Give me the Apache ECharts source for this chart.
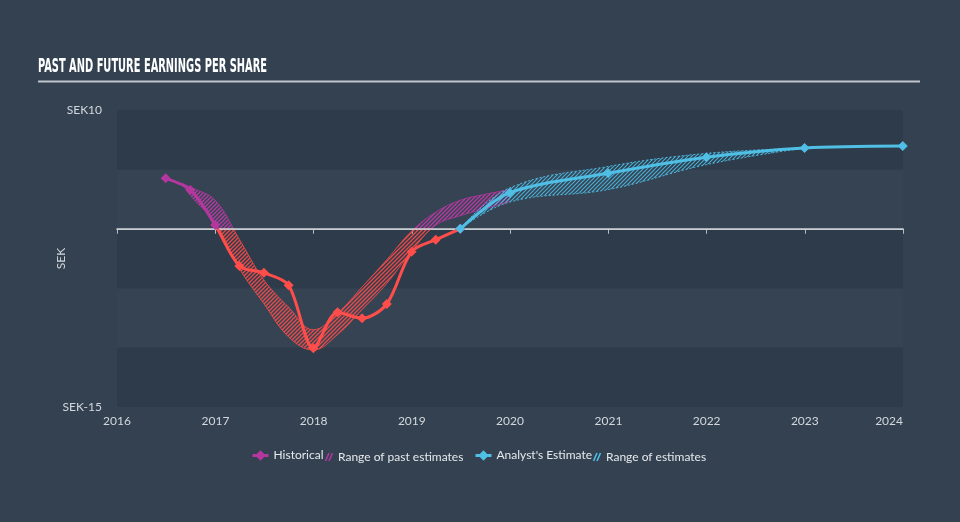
<!DOCTYPE html>
<html>
<head>
<meta charset="utf-8">
<script src="https://cdn.jsdelivr.net/npm/echarts@6/dist/echarts.min.js"></script>
<style>
html,body{margin:0;padding:0;background:#334151;}
#chart{width:960px;height:522px;}
</style>
</head>
<body>
<div id="chart"></div>
<script>
// ---- data ----
const TITLE = 'PAST AND FUTURE EARNINGS PER SHARE';
const xStart = '2016-01-01', xEnd = '2024-01-01';
const yLabelValues = [-15, 10];

const histDates = ['2016-06-30', '2016-09-30', '2016-12-31', '2017-03-31', '2017-06-30', '2017-09-30', '2017-12-31',
                   '2018-03-31', '2018-06-30', '2018-09-30', '2018-12-31', '2019-03-31', '2019-06-30'];
const histEPS   = [4.25, 3.27, 0.32, -3.13, -3.71, -4.75, -10.05, -7.03, -7.53, -6.33, -1.93, -0.92, 0.0];

const estDates = ['2019-06-30', '2019-12-31', '2020-12-31', '2021-12-31', '2022-12-31', '2023-12-31'];
const estEPS   = [0.0, 3.04, 4.67, 6.02, 6.8, 6.97];

const pastRangeDates = ['2016-08-29', '2016-09-30', '2016-12-31', '2017-03-31', '2017-06-30', '2017-09-30', '2017-12-31',
                        '2018-03-31', '2018-06-30', '2018-09-30', '2018-12-31', '2019-03-31', '2019-06-30', '2019-09-30', '2019-12-31'];
const pastRangeHigh = [3.85, 3.5, 2.4, -0.9, -4.3, -6.6, -8.5, -7.1, -4.9, -2.6, -0.2, 1.4, 2.4, 2.9, 3.3];
const pastRangeLow  = [3.85, 2.8, 0.5, -3.35, -6.3, -9.1, -10.2, -8.9, -6.8, -4.6, -1.9, 0.3, 1.1, 1.7, 2.3];

const estRangeDates = ['2019-06-30', '2019-12-31', '2020-12-31', '2021-12-31', '2022-12-31'];
const estRangeHigh  = [0.0, 3.45, 5.25, 6.35, 6.8];
const estRangeLow   = [0.0, 2.25, 3.3, 5.4, 6.8];

// ---- styles ----
const BG = '#334151';
const BAND_DARK = '#2e3b4a';
const BAND_LIGHT = '#354353';
const RED = '#ff4e4a';
const MAGENTA = '#b4379e';
const CYAN = '#4fbfe6';
const AXIS_TEXT = '#d3d8dd';
const LEGEND_TEXT = '#e6e9ec';
const ZERO_LINE = '#cfd4d9';
const FONT = 'Lato';

const Y_MIN = -15, Y_MAX = 10;
const GRID_LEFT = 117, GRID_RIGHT = 57, GRID_TOP = 110, GRID_BOTTOM = 115, H = 522;
const plotH = H - GRID_TOP - GRID_BOTTOM;
const zeroOffset = plotH * (Y_MAX - 0) / (Y_MAX - Y_MIN);
const YEAR_MS = 365 * 24 * 3600 * 1000;

function hatch(color, size, lw) {
  const c = document.createElement('canvas');
  c.width = c.height = size;
  const g = c.getContext('2d');
  g.strokeStyle = color; g.lineWidth = lw;
  g.beginPath();
  g.moveTo(0, size); g.lineTo(size, 0);
  g.moveTo(-1, 1); g.lineTo(1, -1);
  g.moveTo(size - 1, size + 1); g.lineTo(size + 1, size - 1);
  g.stroke();
  return c;
}
function hatchIcon(color) {
  const c = document.createElement('canvas');
  c.width = 8; c.height = 10;
  const g = c.getContext('2d');
  g.strokeStyle = color; g.lineWidth = 1.6;
  g.beginPath();
  g.moveTo(0.5, 9); g.lineTo(4, 1);
  g.moveTo(4, 9); g.lineTo(7.5, 1);
  g.stroke();
  return 'image://' + c.toDataURL();
}
function pairs(xs, ys) { return xs.map((x, i) => [x, ys[i]]); }
const pastDiff = pastRangeHigh.map((v, i) => v - pastRangeLow[i]);
const estDiff = estRangeHigh.map((v, i) => v - estRangeLow[i]);

const TITLE_FONT = 'bold 20px "Liberation Sans Narrow", "DejaVu Sans Condensed", sans-serif';
const mctx = document.createElement('canvas').getContext('2d');
mctx.font = TITLE_FONT;
const titleScale = 229 / mctx.measureText(TITLE).width;

const chart = echarts.init(document.getElementById('chart'), null, {renderer: 'canvas'});

const pastPatRed = {image: hatch('rgba(255,78,74,0.9)', 4, 1.3), repeat: 'repeat'};
const pastPatMag = {image: hatch('rgba(190,60,168,0.95)', 4, 1.3), repeat: 'repeat'};
const estPat = {image: hatch('rgba(79,191,230,0.85)', 4, 1.2), repeat: 'repeat'};

function band(gridIdx, stackId, name, xs, lows, diffs, color, pat, lineType, edgeOpacity) {
  const base = {
    type: 'line', xAxisIndex: gridIdx, yAxisIndex: gridIdx, stack: stackId, stackStrategy: 'all',
    smooth: 0.4, symbol: 'none', silent: true, z: 2
  };
  return [
    Object.assign({}, base, {
      name: name + '_low',
      data: pairs(xs, lows),
      lineStyle: {color: color, width: 1, opacity: edgeOpacity, type: lineType}
    }),
    Object.assign({}, base, {
      name: name,
      data: pairs(xs, diffs),
      lineStyle: {color: color, width: 1, opacity: edgeOpacity, type: lineType},
      itemStyle: {color: color},
      areaStyle: {color: pat, opacity: 1}
    })
  ];
}

const series = [].concat(
  band(1, 'pastA', 'Range of past estimates', pastRangeDates, pastRangeLow, pastDiff, MAGENTA, pastPatMag, 'solid', 0.8),
  band(2, 'pastB', 'Range of past estimates', pastRangeDates, pastRangeLow, pastDiff, RED, pastPatRed, 'solid', 0.8),
  band(0, 'est', 'Range of estimates', estRangeDates, estRangeLow, estDiff, CYAN, estPat, [2, 2], 0.9),
  [
    {
      name: 'Historical', type: 'line', xAxisIndex: 0, yAxisIndex: 0,
      data: pairs(histDates, histEPS), smooth: 0.3,
      symbol: 'diamond', symbolSize: 10, z: 5,
      itemStyle: {color: MAGENTA}, lineStyle: {width: 3}
    },
    {
      name: "Analyst's Estimate", type: 'line', xAxisIndex: 0, yAxisIndex: 0,
      data: pairs(estDates, estEPS), smooth: 0.3,
      symbol: 'diamond', symbolSize: 10, z: 6,
      itemStyle: {color: CYAN}, lineStyle: {width: 3, color: CYAN}
    }
  ]
);
const HIST_INDEX = series.findIndex(s => s.name === 'Historical');

const hiddenY = (min, max) => ({type: 'value', min: min, max: max, show: false,
                        axisLine: {show: false}, axisTick: {show: false}, axisLabel: {show: false}, splitLine: {show: false}});

const option = {
  backgroundColor: BG,
  animation: false,
  textStyle: {fontFamily: FONT},
  graphic: [
    {type: 'text', x: 38, y: 57, scaleX: titleScale,
     style: {text: TITLE, font: TITLE_FONT, fill: '#ffffff', verticalAlign: 'top'}},
    {type: 'line', shape: {x1: 38, y1: 81.5, x2: 920, y2: 81.5},
     style: {stroke: '#bfc6cd', lineWidth: 2}}
  ],
  grid: [
    {left: GRID_LEFT, right: GRID_RIGHT, top: GRID_TOP, bottom: GRID_BOTTOM},
    {left: GRID_LEFT, right: GRID_RIGHT, top: GRID_TOP, height: zeroOffset},
    {left: GRID_LEFT, right: GRID_RIGHT, top: GRID_TOP + zeroOffset, bottom: GRID_BOTTOM}
  ],
  xAxis: [
    {
      type: 'time', gridIndex: 0, min: xStart, max: xEnd, splitNumber: 8,
      minInterval: YEAR_MS,
      axisLine: {lineStyle: {color: '#b3bdc7', width: 1}},
      axisTick: {length: 5, lineStyle: {color: '#b3bdc7'}},
      splitLine: {show: false},
      axisLabel: {color: AXIS_TEXT, fontFamily: FONT, fontSize: 12, margin: 8,
                  alignMaxLabel: 'right', showMinLabel: true, showMaxLabel: true,
                  formatter: v => String(new Date(v).getFullYear())}
    },
    {
      // zero line: the bottom edge of the upper (positive) grid
      type: 'time', gridIndex: 1, min: xStart, max: xEnd, position: 'bottom',
      axisLine: {show: true, lineStyle: {color: ZERO_LINE, width: 1.5}},
      axisTick: {show: false}, axisLabel: {show: false}, splitLine: {show: false}, z: 4
    },
    {type: 'time', gridIndex: 2, min: xStart, max: xEnd, show: false,
     axisLine: {show: false}, axisTick: {show: false}, axisLabel: {show: false}, splitLine: {show: false}}
  ],
  yAxis: [
    {
      type: 'value', gridIndex: 0, min: Y_MIN, max: Y_MAX, interval: 5,
      axisLine: {show: false}, axisTick: {show: false},
      splitLine: {show: false},
      splitArea: {show: true, areaStyle: {color: [BAND_DARK, BAND_LIGHT]}},
      axisLabel: {color: AXIS_TEXT, fontFamily: FONT, fontSize: 12, margin: 15,
                  formatter: v => yLabelValues.indexOf(v) >= 0 ? 'SEK' + v : ''},
      name: 'SEK', nameLocation: 'middle', nameGap: 50, nameRotate: 90, nameMoveOverlap: false,
      nameTextStyle: {color: AXIS_TEXT, fontFamily: FONT, fontSize: 12}
    },
    Object.assign({gridIndex: 1}, hiddenY(0, Y_MAX)),
    Object.assign({gridIndex: 2}, hiddenY(Y_MIN, 0))
  ],
  visualMap: [{
    type: 'piecewise', show: false, seriesIndex: HIST_INDEX, dimension: 1,
    pieces: [{gte: -1000, lt: 0, color: RED}, {gte: 0, lte: 1000, color: MAGENTA}]
  }],
  legend: [
    {left: 251, top: 449.5, padding: 0, itemWidth: 16, itemHeight: 13, selectedMode: false,
     textStyle: {color: LEGEND_TEXT, fontFamily: FONT, fontSize: 12},
     data: [{name: 'Historical', itemStyle: {color: MAGENTA}, lineStyle: {color: MAGENTA, width: 3}}]},
    {left: 325, top: 451, padding: 0, itemWidth: 8, itemHeight: 10, selectedMode: false,
     textStyle: {color: LEGEND_TEXT, fontFamily: FONT, fontSize: 12},
     data: [{name: 'Range of past estimates', icon: hatchIcon(MAGENTA)}]},
    {left: 474, top: 449.5, padding: 0, itemWidth: 16, itemHeight: 13, selectedMode: false,
     textStyle: {color: LEGEND_TEXT, fontFamily: FONT, fontSize: 12},
     data: [{name: "Analyst's Estimate", itemStyle: {color: CYAN}, lineStyle: {color: CYAN, width: 3}}]},
    {left: 593, top: 451, padding: 0, itemWidth: 8, itemHeight: 10, selectedMode: false,
     textStyle: {color: LEGEND_TEXT, fontFamily: FONT, fontSize: 12},
     data: [{name: 'Range of estimates', icon: hatchIcon(CYAN)}]}
  ],
  series: series
};
chart.setOption(option);
</script>
</body>
</html>
